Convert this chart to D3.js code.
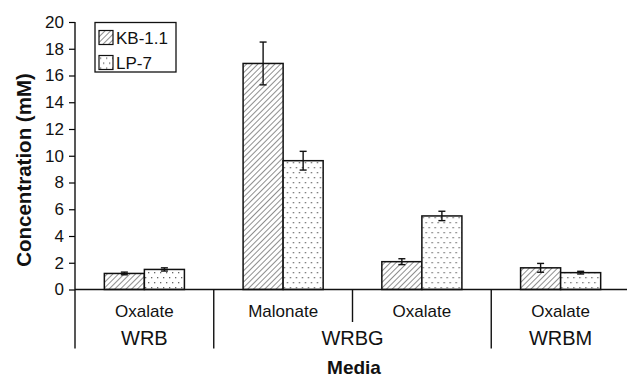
<!DOCTYPE html>
<html>
<head>
<meta charset="utf-8">
<script src="https://cdn.jsdelivr.net/npm/d3@7"></script>
<style>
  html, body { margin: 0; padding: 0; background: #fff; }
  svg { display: block; font-family: "Liberation Sans", Arial, Helvetica, sans-serif; }
</style>
</head>
<body>
<svg id="chart" width="627" height="378"></svg>
<script>
// Media (outer group) and acid measured (inner label) for each column pair
const media = ["WRB", "WRBG", "WRBG", "WRBM"];
const acids = ["Oxalate", "Malonate", "Oxalate", "Oxalate"];
const seriesNames = ["KB-1.1", "LP-7"];

// Mean concentrations (mM) and error bar half-widths
const kbValues = [1.2, 16.9, 2.08, 1.62];
const kbErrors = [0.1, 1.6, 0.22, 0.33];
const lpValues = [1.5, 9.63, 5.5, 1.26];
const lpErrors = [0.12, 0.7, 0.35, 0.1];

const yTicks = [0, 2, 4, 6, 8, 10, 12, 14, 16, 18, 20];

const svg = d3.select("#chart");

const x0 = 75, x1 = 630, yBottom = 289.5, yTop = 22;

const colIndex = d3.range(media.length);
const x = d3.scaleBand().domain(colIndex).range([x0, x1]).padding(0);
const xs = d3.scaleBand().domain(seriesNames).range([0, x.bandwidth()])
  .paddingInner(0).paddingOuter(0.733);
const y = d3.scaleLinear().domain([0, 20]).range([yBottom, yTop]);

// Fill patterns: diagonal hatching and staggered dots
const defs = svg.append("defs");
const hatch = defs.append("pattern")
  .attr("id", "hatch").attr("patternUnits", "userSpaceOnUse")
  .attr("width", 4).attr("height", 4)
  .attr("patternTransform", "rotate(45)");
hatch.append("rect").attr("width", 4).attr("height", 4).attr("fill", "#fff");
hatch.append("line").attr("x1", 0).attr("y1", 0).attr("x2", 0).attr("y2", 4)
  .attr("stroke", "#444").attr("stroke-width", 1.2);

const dots = defs.append("pattern")
  .attr("id", "dots").attr("patternUnits", "userSpaceOnUse")
  .attr("width", 6).attr("height", 10);
dots.append("rect").attr("width", 6).attr("height", 10).attr("fill", "#fff");
dots.append("rect").attr("x", 1).attr("y", 2).attr("width", 1.3).attr("height", 1.3).attr("fill", "#666");
dots.append("rect").attr("x", 4).attr("y", 7).attr("width", 1.3).attr("height", 1.3).attr("fill", "#666");

const fills = { "KB-1.1": "url(#hatch)", "LP-7": "url(#dots)" };

const data = colIndex.map(i => ({
  i,
  bars: [
    { s: "KB-1.1", v: kbValues[i], e: kbErrors[i] },
    { s: "LP-7", v: lpValues[i], e: lpErrors[i] }
  ]
}));

// Y axis
const yAxis = d3.axisLeft(y).tickValues(yTicks).tickSize(6).tickPadding(5)
  .tickFormat(d3.format("d"));
const gy = svg.append("g").attr("transform", `translate(${x0},0)`).call(yAxis);
gy.select(".domain").remove();
gy.selectAll(".tick line").attr("stroke", "#000").attr("stroke-width", 1.2);
gy.selectAll(".tick text").attr("font-size", 17).attr("fill", "#111")
  .attr("font-family", "'Liberation Sans', Arial, sans-serif");

// Bars
const cols = svg.append("g").selectAll("g").data(data).join("g")
  .attr("transform", d => `translate(${x(d.i)},0)`);

cols.selectAll("rect").data(d => d.bars).join("rect")
  .attr("x", b => xs(b.s))
  .attr("y", b => y(b.v))
  .attr("width", xs.bandwidth())
  .attr("height", b => y(0) - y(b.v))
  .attr("fill", b => fills[b.s])
  .attr("stroke", "#111").attr("stroke-width", 1.5);

// Error bars
const eb = cols.selectAll("g.err").data(d => d.bars).join("g").attr("class", "err")
  .attr("stroke", "#111").attr("stroke-width", 1.4);
eb.append("line")
  .attr("x1", b => xs(b.s) + xs.bandwidth() / 2).attr("x2", b => xs(b.s) + xs.bandwidth() / 2)
  .attr("y1", b => y(b.v + b.e)).attr("y2", b => y(b.v - b.e));
eb.append("line")
  .attr("x1", b => xs(b.s) + xs.bandwidth() / 2 - 3.5).attr("x2", b => xs(b.s) + xs.bandwidth() / 2 + 3.5)
  .attr("y1", b => y(b.v + b.e)).attr("y2", b => y(b.v + b.e));
eb.append("line")
  .attr("x1", b => xs(b.s) + xs.bandwidth() / 2 - 3.5).attr("x2", b => xs(b.s) + xs.bandwidth() / 2 + 3.5)
  .attr("y1", b => y(b.v - b.e)).attr("y2", b => y(b.v - b.e));

// Axis lines
const axisG = svg.append("g").attr("stroke", "#111").attr("stroke-width", 1.4);
axisG.append("line").attr("x1", x0).attr("x2", 627).attr("y1", y(0)).attr("y2", y(0));
axisG.append("line").attr("x1", x0).attr("x2", x0).attr("y1", y(20)).attr("y2", 348.5);

// Dividers below the axis: full height between media, short between acids
colIndex.slice(1).forEach(i => {
  const sameMedia = media[i] === media[i - 1];
  axisG.append("line")
    .attr("x1", x(i)).attr("x2", x(i))
    .attr("y1", y(0)).attr("y2", sameMedia ? 322 : 348.5);
});

// Acid labels
svg.append("g").selectAll("text").data(colIndex).join("text")
  .attr("x", i => x(i) + x.bandwidth() / 2)
  .attr("y", 317)
  .attr("text-anchor", "middle")
  .attr("font-size", 17).attr("fill", "#111")
  .text(i => acids[i]);

// Media labels, centred over their span of columns
const mediaGroups = d3.groups(colIndex, i => media[i]);
svg.append("g").selectAll("text").data(mediaGroups).join("text")
  .attr("x", ([, idx]) => (x(idx[0]) + x(idx[idx.length - 1]) + x.bandwidth()) / 2)
  .attr("y", 345)
  .attr("text-anchor", "middle")
  .attr("font-size", 20).attr("fill", "#111")
  .text(([m]) => m);

// Axis titles
svg.append("text")
  .attr("x", 354).attr("y", 374)
  .attr("text-anchor", "middle")
  .attr("font-size", 19).attr("font-weight", "bold").attr("fill", "#111")
  .text("Media");

svg.append("text")
  .attr("transform", "translate(31,170) rotate(-90)")
  .attr("text-anchor", "middle")
  .attr("font-size", 20.5).attr("font-weight", "bold").attr("fill", "#111")
  .text("Concentration (mM)");

// Legend
const legend = svg.append("g").attr("transform", "translate(95,22.5)");
legend.append("rect").attr("width", 81).attr("height", 49.5)
  .attr("fill", "#fff").attr("stroke", "#111").attr("stroke-width", 1.3);
const li = legend.selectAll("g").data(seriesNames).join("g")
  .attr("transform", (d, k) => `translate(4,${8 + k * 25})`);
li.append("rect").attr("width", 14).attr("height", 14)
  .attr("fill", d => fills[d]).attr("stroke", "#111").attr("stroke-width", 1.2);
li.append("text").attr("x", 17).attr("y", 13)
  .attr("font-size", 17).attr("fill", "#111").text(d => d);
</script>
</body>
</html>
